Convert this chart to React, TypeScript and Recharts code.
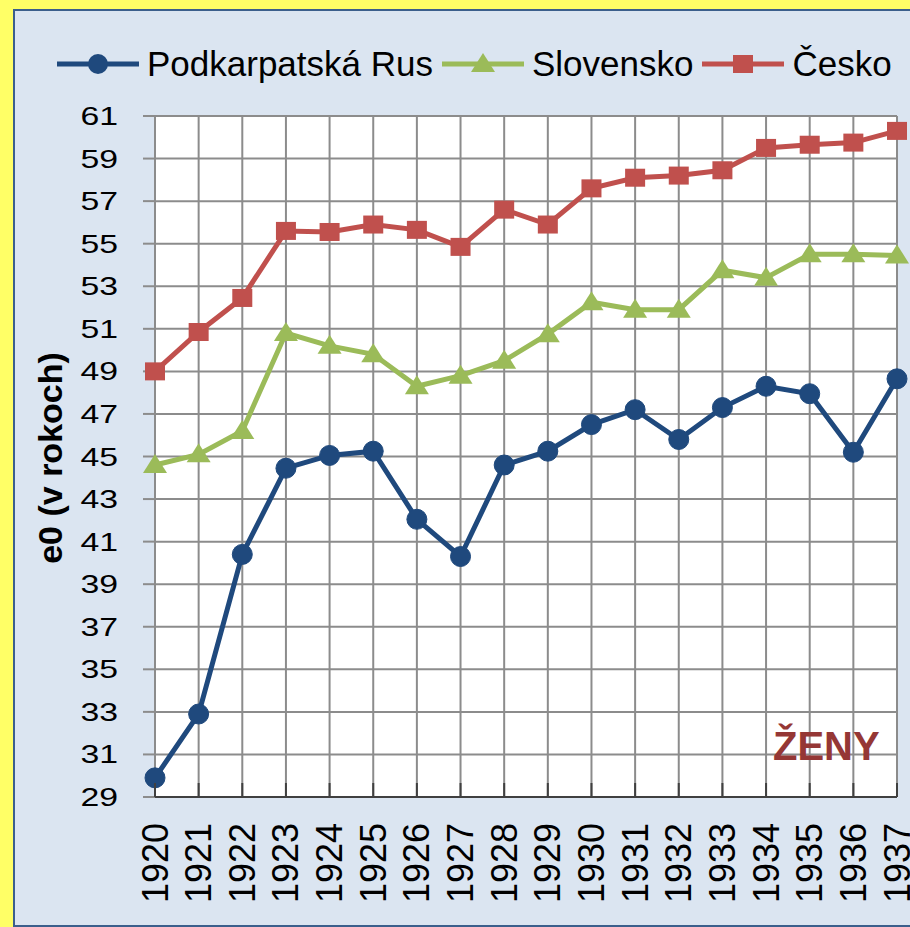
import { LineChart, Line, XAxis, YAxis, CartesianGrid } from "recharts";

const years = ["1920", "1921", "1922", "1923", "1924", "1925", "1926", "1927", "1928", "1929", "1930", "1931", "1932", "1933", "1934", "1935", "1936", "1937"];
const podkarpatska = [29.9, 32.9, 40.4, 44.45, 45.05, 45.25, 42.05, 40.3, 44.6, 45.25, 46.5, 47.2, 45.8, 47.3, 48.3, 47.95, 45.2, 48.65];
const slovensko = [44.6, 45.1, 46.2, 50.8, 50.2, 49.8, 48.3, 48.8, 49.5, 50.75, 52.25, 51.9, 51.9, 53.75, 53.4, 54.5, 54.5, 54.45];
const cesko = [49.0, 50.85, 52.45, 55.6, 55.55, 55.9, 55.65, 54.85, 56.6, 55.9, 57.6, 58.1, 58.2, 58.45, 59.5, 59.65, 59.75, 60.3];
const yTicks = [29, 31, 33, 35, 37, 39, 41, 43, 45, 47, 49, 51, 53, 55, 57, 59, 61];

const BLUE = "#1f497d";
const GREEN = "#9bbb59";
const RED = "#c0504d";
const GRID = "#8c8c8c";
const FONT = "'Liberation Sans', Arial, sans-serif";

const data = years.map((year, i) => ({
  year,
  podkarpatska: podkarpatska[i],
  slovensko: slovensko[i],
  cesko: cesko[i],
}));

const legendItems = [
  { name: "Podkarpatská Rus", color: BLUE, shape: "circle" },
  { name: "Slovensko", color: GREEN, shape: "triangle" },
  { name: "Česko", color: RED, shape: "square" },
];

const triangleDot = (props: any) => {
  const { cx, cy, index } = props;
  return (
    <polygon
      key={`tri-${index}`}
      points={`${cx},${cy - 11} ${cx - 12},${cy + 8} ${cx + 12},${cy + 8}`}
      fill={GREEN}
    />
  );
};

const squareDot = (props: any) => {
  const { cx, cy, index } = props;
  return <rect key={`sq-${index}`} x={cx - 10} y={cy - 9} width={20} height={18} fill={RED} />;
};

const XTick = (props: any) => {
  const { x, y, payload } = props;
  const ty = y + 26;
  return (
    <g>
      <line x1={x} x2={x} y1={y - 14} y2={y} stroke="#404040" strokeWidth={2} />
      <text
        x={x}
        y={ty}
        transform={`rotate(-90 ${x} ${ty})`}
        textAnchor="end"
        dominantBaseline="central"
        fontSize={36}
        fontFamily={FONT}
        fill="#000"
      >
        {payload.value}
      </text>
    </g>
  );
};

// Excel picture is stretched sideways, so widen the y tick digits a bit
const YTick = (props: any) => {
  const { x, y, payload } = props;
  return (
    <text
      transform={`translate(${x} ${y}) scale(1.3 1)`}
      textAnchor="end"
      dominantBaseline="central"
      fontSize={26}
      fontFamily={FONT}
      fill="#000"
    >
      {payload.value}
    </text>
  );
};

const LegendIcon = ({ color, shape }: { color: string; shape: string }) => (
  <svg width={82} height={30} style={{ display: "block" }}>
    <line x1={0} x2={82} y1={15} y2={15} stroke={color} strokeWidth={5} />
    {shape === "circle" && <circle cx={41} cy={15} r={10} fill={color} />}
    {shape === "triangle" && <polygon points="41,4 29,23 53,23" fill={color} />}
    {shape === "square" && <rect x={31} y={6} width={20} height={18} fill={color} />}
  </svg>
);

export default function App() {
  return (
    <div style={{ position: "absolute", left: 0, top: 0, width: 910, height: 927, background: "#ffff66", overflow: "hidden" }}>
      <div
        style={{
          position: "absolute",
          left: 13,
          top: 9,
          width: 940,
          height: 914,
          background: "#dbe5f1",
          border: "2px solid #3b5f8c",
        }}
      />
      <div style={{ position: "absolute", left: 0, top: 0 }}>
        <LineChart width={910} height={927} data={data} margin={{ top: 116, right: 13, bottom: 30, left: 95 }}>
          <CartesianGrid stroke={GRID} strokeWidth={2} fill="#ffffff" />
          <XAxis
            dataKey="year"
            height={100}
            interval={0}
            tickLine={false}
            tickSize={0}
            tickMargin={0}
            axisLine={{ stroke: "#404040", strokeWidth: 2 }}
            tick={<XTick />}
          />
          <YAxis
            domain={[29, 61]}
            ticks={yTicks}
            interval={0}
            width={60}
            tickSize={12}
            tickMargin={25}
            tickLine={{ stroke: GRID, strokeWidth: 2 }}
            axisLine={{ stroke: GRID, strokeWidth: 2 }}
            tick={<YTick />}
          />
          <Line
            type="linear"
            dataKey="podkarpatska"
            stroke={BLUE}
            strokeWidth={5}
            dot={{ r: 10, fill: BLUE, stroke: BLUE, strokeWidth: 1 }}
            isAnimationActive={false}
          />
          <Line type="linear" dataKey="slovensko" stroke={GREEN} strokeWidth={5} dot={triangleDot} isAnimationActive={false} />
          <Line type="linear" dataKey="cesko" stroke={RED} strokeWidth={5} dot={squareDot} isAnimationActive={false} />
        </LineChart>
      </div>
      <div
        style={{
          position: "absolute",
          left: 57,
          top: 44,
          display: "flex",
          alignItems: "center",
          fontFamily: FONT,
          fontSize: 35,
          color: "#000",
          whiteSpace: "nowrap",
        }}
      >
        {legendItems.map((item) => (
          <div key={item.name} style={{ display: "flex", alignItems: "center", marginRight: 9 }}>
            <LegendIcon color={item.color} shape={item.shape} />
            <span style={{ marginLeft: 8, lineHeight: "40px" }}>{item.name}</span>
          </div>
        ))}
      </div>
      <div
        style={{
          position: "absolute",
          left: 50,
          top: 458,
          transform: "translate(-50%, -50%) rotate(-90deg)",
          fontFamily: FONT,
          fontWeight: "bold",
          fontSize: 34,
          whiteSpace: "nowrap",
          color: "#000",
        }}
      >
        e0 (v rokoch)
      </div>
      <div
        style={{
          position: "absolute",
          left: 773,
          top: 722,
          fontFamily: FONT,
          fontWeight: "bold",
          fontSize: 40,
          color: "#953735",
          lineHeight: "48px",
        }}
      >
        ŽENY
      </div>
    </div>
  );
}
